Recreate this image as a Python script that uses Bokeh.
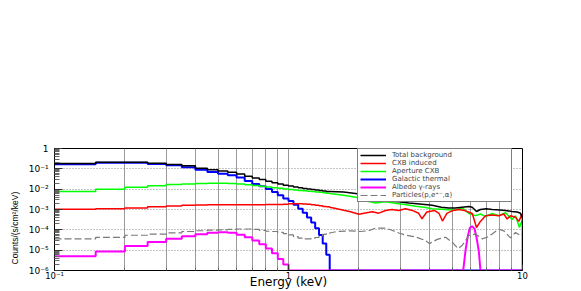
import json
import math
from bokeh.plotting import figure
from bokeh.models import (Range1d, Legend, LegendItem, Title, CustomJSTickFormatter, FixedTicker)
from bokeh.embed import file_html
from bokeh.resources import INLINE

# ---------------- data ----------------
LOW_EDGES = [0.10, 0.15, 0.20, 0.25, 0.30, 0.35, 0.40, 0.45, 0.50, 0.55, 0.60, 0.65, 0.70, 0.75,
             0.80, 0.85, 0.90, 0.95, 1.00, 1.05, 1.10, 1.15, 1.20, 1.25, 1.30, 1.35, 1.40, 1.45, 1.50]

TOTAL_LOW = [0.185, 0.21, 0.212, 0.19, 0.165, 0.14, 0.108, 0.09, 0.078, 0.068, 0.056, 0.043, 0.035, 0.0295,
             0.0248, 0.0207, 0.0178, 0.0156, 0.0142, 0.0128, 0.0118, 0.0109, 0.0102, 0.0096, 0.0091, 0.0086,
             0.0081, 0.0077]
CXB_LOW = [0.00103, 0.00108, 0.00120, 0.00138, 0.00148, 0.00160, 0.00165, 0.00170, 0.00170, 0.00171,
           0.00172, 0.00172, 0.00172, 0.00173, 0.00174, 0.00175, 0.00176, 0.00180, 0.00190, 0.00192,
           0.00190, 0.00185, 0.00180, 0.00172, 0.00163, 0.00152, 0.00142, 0.00137]
APERTURE_LOW = [0.0077, 0.0100, 0.0124, 0.0148, 0.0170, 0.0180, 0.0190, 0.0195, 0.0195, 0.0190, 0.0180,
                0.0165, 0.0152, 0.0140, 0.0128, 0.0118, 0.0110, 0.0102, 0.0096, 0.0091, 0.0087, 0.0083,
                0.0080, 0.0077, 0.0073, 0.0070, 0.0066, 0.0063]
GALACTIC_LOW = [0.17, 0.20, 0.20, 0.175, 0.148, 0.12, 0.09, 0.07, 0.058, 0.049, 0.037, 0.025, 0.018, 0.0138,
                0.0103, 0.0072, 0.005, 0.0035, 0.0026, 0.0017, 0.0011, 0.0007, 0.0004, 0.00023, 0.00012,
                5.6e-5, 2.1e-5, 6e-6]
ALBEDO_LOW = [5e-6, 8.5e-6, 1.6e-5, 2.5e-5, 3.6e-5, 4.8e-5, 6e-5, 7.1e-5, 7.6e-5, 7.1e-5, 5.8e-5, 4.3e-5,
              3.0e-5, 1.95e-5, 1.2e-5, 7e-6, 3.7e-6, 2e-6, 0, 0, 0, 0, 0, 0, 0, 0, 0, 0]
PARTICLES_LOW = [3.6e-5, 4.3e-5, 5.4e-5, 6.2e-5, 7.1e-5, 8.3e-5, 9e-5, 9.6e-5, 1.0e-4, 1.05e-4, 1.1e-4,
                 1.1e-4, 1.05e-4, 9.5e-5, 8.5e-5, 8.3e-5, 7.5e-5, 6.5e-5, 5.6e-5, 4.6e-5, 3.9e-5, 3.6e-5,
                 3.6e-5, 3.9e-5, 4.2e-5, 5.0e-5, 6.0e-5, 6.6e-5]

TOTAL_HI_E = [1.5, 1.72, 1.97, 2.05, 2.13, 2.28, 2.51, 2.96, 3.27, 3.73, 4.11, 4.5, 4.84, 5.17, 5.52, 5.9,
              6.1, 6.36, 6.61, 7.0, 7.42, 8.0, 8.46, 9.0, 9.5, 9.8, 10.0, 10.0]
TOTAL_HI = [0.0077, 0.0072, 0.006, 0.0047, 0.0036, 0.0031, 0.0028, 0.0024, 0.0021, 0.0018, 0.0016, 0.0013,
            0.0012, 0.0012, 0.0013, 0.0014, 0.0013, 0.0008, 0.001, 0.0011, 0.001, 0.00095, 0.0009, 0.0008,
            0.00075, 0.00065, 0.00035, 0]
CXB_HI_E = [1.5, 1.61, 1.84, 2.0, 2.1, 2.28, 2.43, 2.6, 2.77, 2.96, 3.16, 3.38, 3.6, 3.72, 3.9, 4.2, 4.4,
            4.55, 4.75, 5.05, 5.35, 5.71, 6.1, 6.36, 6.61, 6.95, 7.42, 7.92, 8.32, 8.6, 8.89, 9.33, 9.64, 10.0]
CXB_HI = [0.0013, 0.0011, 0.00077, 0.00058, 0.00066, 0.00077, 0.00066, 0.0009, 0.001, 0.0009, 0.0011,
          0.0009, 0.00065, 0.00035, 0.00075, 0.0009, 0.00064, 0.00027, 0.00064, 0.0009, 0.001, 0.00086,
          0.00064, 0.00013, 0.00026, 0.00049, 0.00054, 0.00049, 0.0006, 0.00034, 0.00049, 0.00042,
          0.00026, 0.00064]
APERTURE_HI_E = [1.5, 1.72, 1.97, 2.1, 2.24, 2.35, 2.6, 2.96, 3.2, 3.49, 3.8, 4.11, 4.69, 5.17, 5.52, 5.9,
                 6.3, 6.61, 6.95, 7.42, 7.92, 8.46, 9.03, 9.33, 9.7, 10.0]
APERTURE_HI = [0.0061, 0.005, 0.0039, 0.0027, 0.0024, 0.0021, 0.0024, 0.0019, 0.0017, 0.00145, 0.0013,
               0.0011, 0.001, 0.00093, 0.0012, 0.00064, 0.0005, 0.0006, 0.00045, 0.00064, 0.0005, 0.0007,
               0.00032, 0.0005, 0.00013, 0.00032]
GALACTIC_HI_E = [1.5, 10.0]
GALACTIC_HI = [0, 0]
ALBEDO_HI_E = [1.5, 5.58, 5.71, 5.84, 5.96, 6.09, 6.23, 6.36, 6.51, 6.61, 10.0]
ALBEDO_HI = [0, 0, 1e-5, 5e-5, 1.26e-4, 1.5e-4, 1.15e-4, 4.3e-5, 8.5e-6, 0, 0]
PARTICLES_HI_E = [1.5, 1.61, 1.84, 2.03, 2.2, 2.35, 2.6, 2.77, 2.96, 3.16, 3.49, 3.85, 4.0, 4.32, 4.69, 5.0,
                  5.3, 5.52, 5.9, 6.3, 6.72, 7.06, 7.42, 7.92, 8.32, 8.89, 9.33, 9.8, 10.0]
PARTICLES_HI = [7e-5, 8.3e-5, 8.9e-5, 8.3e-5, 9e-5, 1.2e-4, 1.2e-4, 9.5e-5, 7e-5, 5.5e-5, 4.5e-5, 3.0e-5,
                2.1e-5, 3.4e-5, 4.3e-5, 2.5e-5, 1.2e-5, 1.7e-5, 5.2e-5, 6.3e-5, 3.6e-5, 4.3e-5, 6.3e-5,
                1.07e-4, 8.9e-5, 4e-5, 7.4e-5, 5.2e-5, 6e-5]

SERIES_NAMES = ["Total background", "CXB induced", "Aperture CXB", "Galactic thermal",
                "Albedo \u03b3-rays", "Particles(p,e\u207a\u207b,\u03b1)"]

X_TICKS = [0.1, 1, 10]
X_TICK_LABELS = ["10\u207b\u00b9", "1", "10"]
Y_TICKS = [1e-6, 1e-5, 1e-4, 1e-3, 1e-2, 1e-1, 1]
Y_TICK_LABELS = ["10\u207b\u2076", "10\u207b\u2075", "10\u207b\u2074", "10\u207b\u00b3", "10\u207b\u00b2",
                 "10\u207b\u00b9", "1"]
X_TITLE = "Energy (keV)"
Y_TITLE = "Counts/(s/cm\u00b2/keV)"

# ---------------- layout ----------------
X_MIN, X_MAX = 0.1, 10.0
Y_MIN, Y_MAX = 1e-6, 1.0
W, H = 581, 291
B_LEFT, B_RIGHT, B_TOP, B_BOTTOM = 54, 59, 148, 15


def build(edges, low, hi_e, hi_v):
    xs, ys = [], []
    for i, v in enumerate(low):
        yv = v if v > 0 else Y_MIN
        xs += [edges[i], edges[i + 1]]
        ys += [yv, yv]
    for e, v in zip(hi_e, hi_v):
        xs.append(e)
        ys.append(v if v > 0 else Y_MIN)
    return xs, ys


p = figure(width=W, height=H, x_axis_type="log", y_axis_type="log",
           x_range=Range1d(X_MIN, X_MAX), y_range=Range1d(Y_MIN, Y_MAX),
           output_backend="svg", toolbar_location=None,
           min_border_left=B_LEFT, min_border_right=B_RIGHT,
           min_border_top=B_TOP, min_border_bottom=B_BOTTOM)
p.background_fill_color = "white"
p.border_fill_color = "white"
p.outline_line_color = "black"
p.outline_line_width = 1

x_minor = [m * 10.0 ** d for d in (-1, 0) for m in range(2, 10)]
y_minor = [m * 10.0 ** d for d in range(-6, 0) for m in range(2, 10)]
p.xaxis.ticker = FixedTicker(ticks=X_TICKS, minor_ticks=x_minor)
p.yaxis.ticker = FixedTicker(ticks=Y_TICKS, minor_ticks=y_minor)


def fmt(labels_by_exp):
    return CustomJSTickFormatter(code=(
        "const labels = " + json.dumps(labels_by_exp) + ";"
        "const e = Math.round(Math.log10(tick));"
        "const s = labels[String(e)];"
        "return s === undefined ? '' : s;"))


p.xaxis.formatter = fmt({str(round(math.log10(t))): l for t, l in zip(X_TICKS, X_TICK_LABELS)})
p.yaxis.formatter = fmt({str(round(math.log10(t))): l for t, l in zip(Y_TICKS, Y_TICK_LABELS)})

for ax in (p.xaxis[0], p.yaxis[0]):
    ax.axis_line_color = "black"
    ax.major_tick_out = 0
    ax.minor_tick_out = 0
    ax.major_tick_line_color = "#333333"
    ax.minor_tick_line_color = "#666666"
    ax.major_label_text_font = "DejaVu Sans"
    ax.major_label_text_color = "black"
p.xaxis.major_label_text_font_size = "8.5px"
p.yaxis.major_label_text_font_size = "9px"
p.xaxis.major_tick_in = 6
p.xaxis.minor_tick_in = 3
p.xaxis.major_label_standoff = 0
p.yaxis.major_tick_in = 8
p.yaxis.minor_tick_in = 5
p.yaxis.major_label_standoff = 6

p.xaxis.axis_label = X_TITLE
p.xaxis.axis_label_standoff = -9
p.xaxis.axis_label_text_font = "DejaVu Sans"
p.xaxis.axis_label_text_font_size = "12px"
p.xaxis.axis_label_text_font_style = "normal"
p.xaxis.axis_label_text_color = "black"

p.add_layout(Title(text=Y_TITLE, align="left", offset=6, standoff=11,
                   text_font="Liberation Sans", text_font_size="8.5px", text_font_style="normal",
                   text_color="black"), "left")

p.xgrid.grid_line_color = "#9a9a9a"
p.xgrid.minor_grid_line_color = "#9a9a9a"
p.xgrid.grid_line_width = 1
p.ygrid.grid_line_color = "#8a8a8a"
p.ygrid.grid_line_dash = "1 2"
p.ygrid.minor_grid_line_color = None

specs = [
    ("galactic", GALACTIC_LOW, GALACTIC_HI_E, GALACTIC_HI, "#0000ff", 2.0, "solid"),
    ("albedo", ALBEDO_LOW, ALBEDO_HI_E, ALBEDO_HI, "#ff00ff", 2.0, "solid"),
    ("aperture", APERTURE_LOW, APERTURE_HI_E, APERTURE_HI, "#00ff00", 1.5, "solid"),
    ("cxb", CXB_LOW, CXB_HI_E, CXB_HI, "#ff0000", 1.5, "solid"),
    ("particles", PARTICLES_LOW, PARTICLES_HI_E, PARTICLES_HI, "#7a7a7a", 1.2, "7 3"),
    ("total", TOTAL_LOW, TOTAL_HI_E, TOTAL_HI, "#000000", 1.5, "solid"),
]
rend = {}
for key, low, he, hv, col, lw, dash in specs:
    xs, ys = build(LOW_EDGES, low, he, hv)
    rend[key] = p.line(xs, ys, line_color=col, line_width=lw, line_dash=dash)

order = ["total", "cxb", "aperture", "galactic", "albedo", "particles"]
legend = Legend(items=[LegendItem(label=n, renderers=[rend[k]]) for n, k in zip(SERIES_NAMES, order)],
                location=(303, 68), orientation="vertical",
                padding=2, spacing=0, margin=0,
                glyph_width=26, glyph_height=6, label_height=6, label_standoff=6, label_width=117,
                label_text_font="DejaVu Sans", label_text_font_size="7px",
                border_line_color="black", border_line_width=1,
                background_fill_color="white", background_fill_alpha=1.0)
p.add_layout(legend)

open("out.html", "w").write(file_html(p, INLINE))
